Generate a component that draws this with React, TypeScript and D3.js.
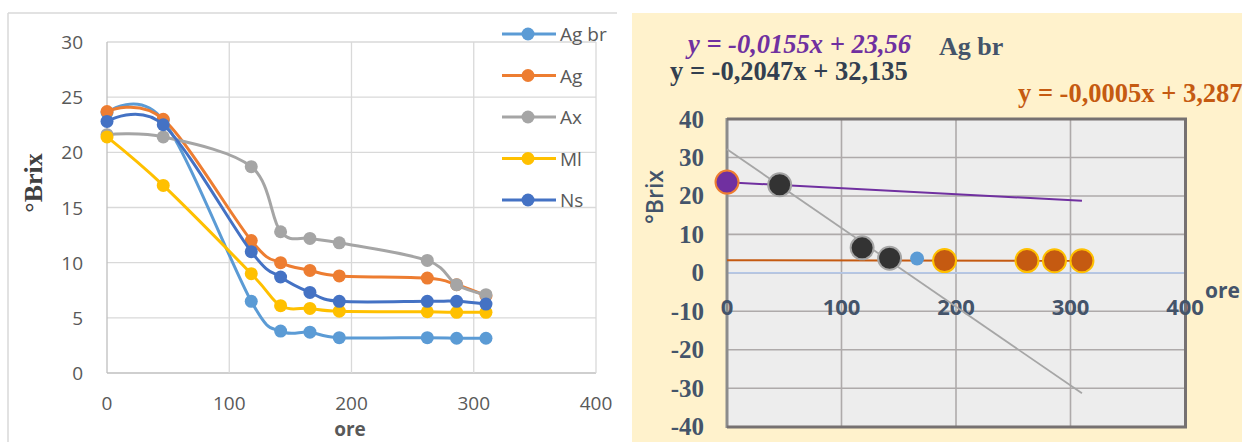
import React from "react";
import * as d3 from "d3";

// ---------- data ----------
const hours = [0, 46, 118, 142, 166, 190, 262, 286, 310];
const seriesNames = ["Ag br", "Ag", "Ax", "Ml", "Ns"];
const agBr = [23.6, 22.9, 6.5, 3.8, 3.7, 3.2, 3.2, 3.15, 3.15];
const ag = [23.7, 23.0, 12.0, 10.0, 9.3, 8.8, 8.6, 8.0, 7.0];
const ax = [21.6, 21.4, 18.7, 12.8, 12.2, 11.8, 10.2, 8.0, 7.1];
const ml = [21.4, 17.0, 9.0, 6.1, 5.85, 5.6, 5.55, 5.5, 5.5];
const ns = [22.8, 22.5, 11.0, 8.7, 7.3, 6.5, 6.5, 6.5, 6.25];
const seriesColors = ["#5B9BD5", "#ED7D31", "#A5A5A5", "#FFC000", "#4472C4"];

const leftYTicks = [0, 5, 10, 15, 20, 25, 30];
const leftXTicks = [0, 100, 200, 300, 400];

const rightYTicks = [40, 30, 20, 10, 0, -10, -20, -30, -40];
const rightXTicks = [0, 100, 200, 300, 400];

// right chart groups (indices into hours / agBr)
const groupPurple = [0];
const groupDark = [1, 2, 3];
const groupBlue = [4];
const groupOrange = [5, 6, 7, 8];

const trendPurple = { m: -0.0155, b: 23.56, label: "y = -0,0155x + 23,56" };
const trendGray = { m: -0.2047, b: 32.135, label: "y = -0,2047x + 32,135" };
const trendOrange = { m: -0.0005, b: 3.287, label: "y = -0,0005x + 3,287" };
const trendRange = [0, 310];

export default function App() {
  const allSeries = [agBr, ag, ax, ml, ns];

  // left chart scales
  const lx = d3.scaleLinear().domain([0, 400]).range([107, 596]);
  const ly = d3.scaleLinear().domain([0, 30]).range([373, 42]);
  const line = d3
    .line<number>()
    .x((_, i) => lx(hours[i]))
    .y((d) => ly(d))
    .curve(d3.curveCardinal.tension(0));

  // right chart scales
  const rx = d3.scaleLinear().domain([0, 400]).range([727, 1185]);
  const ry = d3.scaleLinear().domain([-40, 40]).range([426.7, 119]);
  const trendPath = (t: { m: number; b: number }) =>
    d3
      .line<number>()
      .x((d) => rx(d))
      .y((d) => ry(t.m * d + t.b))(trendRange) as string;

  const sans = "'Open Sans', 'Noto Sans', sans-serif";
  const serif = "'Liberation Serif', 'DejaVu Serif', serif";
  const blueGray = "#44546A";

  return (
    <svg
      width={1245}
      height={442}
      style={{ position: "absolute", left: 0, top: 0, background: "#fff" }}
    >
      {/* ===== LEFT CHART ===== */}
      <line x1={8} y1={13} x2={617} y2={13} stroke="#D9D9D9" strokeWidth={1.5} />
      <line x1={8} y1={13} x2={8} y2={442} stroke="#D9D9D9" strokeWidth={1.5} />
      {leftYTicks.map((t) => (
        <line key={"lyg" + t} x1={lx(0)} x2={lx(400)} y1={ly(t)} y2={ly(t)} stroke={t === 0 ? "#BFBFBF" : "#D9D9D9"} strokeWidth={1.3} />
      ))}
      {leftXTicks.map((t) => (
        <line key={"lxg" + t} x1={lx(t)} x2={lx(t)} y1={ly(0)} y2={ly(30)} stroke={t === 0 ? "#BFBFBF" : "#D9D9D9"} strokeWidth={1.3} />
      ))}
      {leftYTicks.map((t) => (
        <text key={"lyt" + t} x={83} y={ly(t) + 7} textAnchor="end" fontFamily={sans} fontSize={19} fill="#595959">
          {t}
        </text>
      ))}
      {leftXTicks.map((t) => (
        <text key={"lxt" + t} x={lx(t)} y={410} textAnchor="middle" fontFamily={sans} fontSize={19} fill="#595959">
          {t}
        </text>
      ))}
      <text x={350} y={436} textAnchor="middle" fontFamily={sans} fontWeight="bold" fontSize={19} fill="#595959">
        ore
      </text>
      <text
        transform="translate(42,183) rotate(-90)"
        textAnchor="middle"
        fontFamily={serif}
        fontWeight="bold"
        fontSize={26}
        fill="#404040"
      >
        °Brix
      </text>
      {allSeries.map((s, si) => (
        <g key={"ser" + si}>
          <path d={line(s) as string} fill="none" stroke={seriesColors[si]} strokeWidth={3} />
          {s.map((v, i) => (
            <circle key={i} cx={lx(hours[i])} cy={ly(v)} r={6.5} fill={seriesColors[si]} />
          ))}
        </g>
      ))}
      {/* legend */}
      {seriesNames.map((n, i) => {
        const y = 34 + i * 41.5;
        return (
          <g key={"leg" + n}>
            <line x1={502} x2={556} y1={y} y2={y} stroke={seriesColors[i]} strokeWidth={3} />
            <circle cx={528} cy={y} r={6.5} fill={seriesColors[i]} />
            <text x={560} y={y + 7} fontFamily={sans} fontSize={19} fill="#595959">
              {n}
            </text>
          </g>
        );
      })}

      {/* ===== RIGHT CHART ===== */}
      <rect x={632} y={13} width={610} height={429} fill="#FFF2CC" />
      <rect x={727} y={119} width={458} height={307.7} fill="#EDEDED" />
      {rightYTicks.map((t) => (
        <line key={"ryg" + t} x1={rx(0)} x2={rx(400)} y1={ry(t)} y2={ry(t)} stroke="#AEAAAA" strokeWidth={1.6} />
      ))}
      {rightXTicks.map((t) => (
        <line key={"rxg" + t} x1={rx(t)} x2={rx(t)} y1={ry(-40)} y2={ry(40)} stroke="#AEAAAA" strokeWidth={1.6} />
      ))}
      <line x1={rx(0)} x2={rx(400)} y1={ry(0)} y2={ry(0)} stroke="#B4C7E7" strokeWidth={1.6} />
      {/* plot border */}
      <line x1={727} x2={727} y1={118} y2={428} stroke="#8C8C8C" strokeWidth={3} />
      <path d="M727,119 H1185.5 V427 H727" fill="none" stroke="#767171" strokeWidth={3} />
      {rightYTicks.map((t) => (
        <text key={"ryt" + t} x={704} y={ry(t) + 8.5} textAnchor="end" fontFamily={serif} fontWeight="bold" fontSize={25} fill={blueGray}>
          {t}
        </text>
      ))}
      {rightXTicks.map((t) => (
        <text key={"rxt" + t} x={rx(t)} y={315} textAnchor="middle" fontFamily={sans} fontWeight="bold" fontSize={22} fill={blueGray}>
          {t}
        </text>
      ))}
      <text x={1205} y={298} fontFamily={sans} fontWeight="bold" fontSize={21} fill={blueGray}>
        ore
      </text>
      <text
        transform="translate(663,197) rotate(-90)"
        textAnchor="middle"
        fontFamily={sans}
        fontWeight={600}
        fontSize={23}
        fill={blueGray}
      >
        °Brix
      </text>
      {/* trend lines */}
      <path d={trendPath(trendGray)} stroke="#A6A6A6" strokeWidth={1.8} fill="none" />
      <path d={trendPath(trendOrange)} stroke="#C55A11" strokeWidth={2} fill="none" />
      <path d={trendPath(trendPurple)} stroke="#7030A0" strokeWidth={2} fill="none" />
      {/* points */}
      {groupDark.map((i) => (
        <circle key={"d" + i} cx={rx(hours[i])} cy={ry(agBr[i])} r={11.5} fill="#333333" stroke="#A5A5A5" strokeWidth={2} />
      ))}
      {groupBlue.map((i) => (
        <circle key={"b" + i} cx={rx(hours[i])} cy={ry(agBr[i])} r={7} fill="#5B9BD5" />
      ))}
      {groupOrange.map((i) => (
        <circle key={"o" + i} cx={rx(hours[i])} cy={ry(agBr[i])} r={11.5} fill="#C55A11" stroke="#FFC000" strokeWidth={2} />
      ))}
      {groupPurple.map((i) => (
        <circle key={"p" + i} cx={rx(hours[i])} cy={ry(agBr[i])} r={11.5} fill="#7030A0" stroke="#ED7D31" strokeWidth={2} />
      ))}
      {/* equations */}
      <text x={688} y={53} fontFamily={serif} fontWeight="bold" fontStyle="italic" fontSize={26.5} fill="#7030A0">
        {trendPurple.label}
      </text>
      <text x={939} y={55} fontFamily={serif} fontWeight="bold" fontSize={26} fill={blueGray}>
        Ag br
      </text>
      <text x={670} y={80} fontFamily={serif} fontWeight="bold" fontSize={26.5} fill="#333F50">
        {trendGray.label}
      </text>
      <text x={1018} y={102} fontFamily={serif} fontWeight="bold" fontSize={26.5} fill="#C55A11">
        {trendOrange.label}
      </text>
    </svg>
  );
}
